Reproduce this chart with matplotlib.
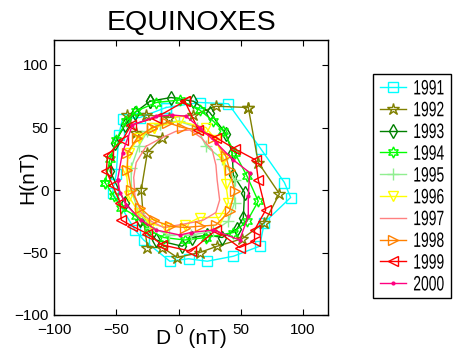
import numpy as np
import matplotlib
matplotlib.use("Agg")
import matplotlib.pyplot as plt
from matplotlib import font_manager as fm
from matplotlib.patheffects import AbstractPathEffect
from matplotlib.transforms import Affine2D

names = {f.name for f in fm.fontManager.ttflist}
base_font = "Liberation Sans" if "Liberation Sans" in names else "DejaVu Sans"
plt.rcParams['font.family'] = [base_font, 'DejaVu Sans']

years = ["1991", "1992", "1993", "1994", "1995", "1996", "1997", "1998", "1999", "2000"]

d1991 = [-10, 17, 40, 66, 85, 90, 69, 65, 44, 23, 8, -7, -28, -35, -53, -50, -48, -45, -31]
h1991 = [66, 70, 69, 33, 6, -6, -26, -45, -53, -57, -55, -57, -40, -32, -2, 13, 44, 57, 58]

d1992 = [56, 30, 12, -8, -26, -41, -34, -13, -25, -30, -28, -25, -13, -1, 17, 31, 51, 69, 81, 64]
h1992 = [66, 67, 60, 58, 60, 60, 46, 42, 30, 0, -25, -46, -46, -54, -50, -45, -39, -26, -3, 22]

d1993 = [-23, -6, 12, 25, 38, 43, 44, 53, 52, 47, 35, 23, 11, 3, -18, -31, -43, -55, -51, -43, -35]
h1993 = [71, 74, 71, 62, 45, 30, 12, -2, -22, -31, -38, -36, -38, -45, -40, -24, -10, 15, 38, 52, 62]

d1994 = [-59, -55, -50, -42, -34, -18, 1, 17, 28, 36, 45, 55, 64, 55, 44, 22, 5, -12, -24, -34, -46, -52]
h1994 = [6, 25, 40, 55, 63, 70, 72, 64, 55, 47, 30, 11, -9, -25, -34, -38, -40, -38, -32, -21, -14, -5]

d1995 = [-15, 0, 15, 22, 35, 45, 45, 40, 28, 10, -8, -22, -32, -38, -38, -32, -25]
h1995 = [53, 55, 50, 35, 25, 8, -10, -25, -33, -36, -36, -30, -18, 0, 18, 35, 47]

d1996 = [-20, 0, 22, 30, 36, 38, 40, 33, 17, 5, -10, -22, -32, -40, -42, -40, -32]
h1996 = [50, 55, 50, 40, 25, 5, -10, -22, -22, -28, -30, -27, -18, -5, 15, 30, 42]

d1997 = [-26, -13, -2, 9, 18, 27, 30, 31, 33, 30, 20, 11, 0, -12, -22, -30, -35, -36, -34]
h1997 = [35, 42, 47, 48, 42, 32, 20, 8, -8, -18, -24, -26, -28, -30, -25, -18, -5, 10, 22]

d1998 = [-21, -9, 3, 15, 28, 38, 41, 45, 41, 30, 17, 5, -7, -20, -31, -38, -41, -41, -33]
h1998 = [50, 54, 50, 48, 42, 27, 16, -1, -17, -28, -29, -30, -29, -24, -14, 0, 16, 30, 42]

d1999 = [5, 16, 30, 45, 62, 64, 70, 61, 61, 49, 30, 10, -13, -25, -37, -46, -47, -53, -58, -57, -45, -38, -18]
h1999 = [71, 48, 42, 33, 24, 8, -16, -32, -41, -46, -32, -49, -44, -35, -29, -24, -10, 4, 15, 28, 40, 52, 58]

d2000 = [-49, -45, -37, -18, -5, 6, 17, 30, 44, 57, 56, 56, 49, 28, 10, 1, -18, -30, -42, -47]
h2000 = [8, 30, 52, 59, 60, 59, 50, 38, 24, 14, -5, -21, -40, -32, -34, -36, -32, -24, -12, -2]

series_d = [d1991, d1992, d1993, d1994, d1995, d1996, d1997, d1998, d1999, d2000]
series_h = [h1991, h1992, h1993, h1994, h1995, h1996, h1997, h1998, h1999, h2000]

colors = ["#00ffff", "#808000", "#008000", "#00ff00", "#90ee90",
          "#ffff00", "#ff8080", "#ff8000", "#ff0000", "#ff0080"]
markers = ["s", "*", "d", (6, 1, 0), "+", "v", None, ">", "<", "."]
msizes = [7, 9, 7.5, 8, 9, 7, 0, 7, 7, 4]

ticks = [-100, -50, 0, 50, 100]


class Stretch(AbstractPathEffect):
    """Stretch glyphs vertically about their mid-height (tall, narrow legend text)."""
    def __init__(self, sx=1.0, sy=1.0, cy=36.0):
        super().__init__()
        self.sx, self.sy, self.cy = sx, sy, cy

    def draw_path(self, renderer, gc, tpath, affine, rgbFace=None):
        t = Affine2D().translate(0, -self.cy).scale(self.sx, self.sy).translate(0, self.cy)
        renderer.draw_path(gc, tpath, t + affine, rgbFace)


fig = plt.figure(figsize=(4.54, 3.56), dpi=100)
ax = fig.add_axes([54/454, 41/356, 274/454, 275/356])

for d, h, c, m, ms, y in zip(series_d, series_h, colors, markers, msizes, years):
    xd = list(d) + [d[0]]
    yh = list(h) + [h[0]]
    kw = dict(color=c, lw=1.0, label=y)
    if m is not None:
        if m == ".":
            kw.update(marker=m, ms=ms, mfc=c, mec=c)
        else:
            kw.update(marker=m, ms=ms, mfc="none", mec=c, mew=1.0)
    ax.plot(xd, yh, **kw)

ax.set_xlim(-100, 120)
ax.set_ylim(-100, 120)
ax.set_xticks(ticks)
ax.set_yticks(ticks)
ax.tick_params(direction="in", top=True, right=True, length=4, width=0.8,
               labelsize=11)
ax.tick_params(axis="x", pad=6)
ax.tick_params(axis="y", pad=4)
for s in ax.spines.values():
    s.set_linewidth(1.0)

ax.set_title("EQUINOXES", fontsize=20.5, pad=7)
ax.set_xlabel("D   (nT)", fontsize=15)
ax.xaxis.set_label_coords(0.5, -0.05)
ax.set_ylabel("H(nT)", fontsize=15)
ax.yaxis.set_label_coords(-0.06, 0.5)

leg = ax.legend(loc="upper left", bbox_to_anchor=(373/454, 1 - 74/356),
                bbox_transform=fig.transFigure, borderaxespad=0,
                prop={"size": 10},
                handlelength=1.9, handletextpad=0.5, labelspacing=0.56,
                borderpad=0.5, fancybox=False, edgecolor="black",
                framealpha=1)
leg.get_frame().set_linewidth(1.0)
for t in leg.get_texts():
    t.set_path_effects([Stretch(1.0, 1.5)])

fig.savefig("out.png", dpi=100)
